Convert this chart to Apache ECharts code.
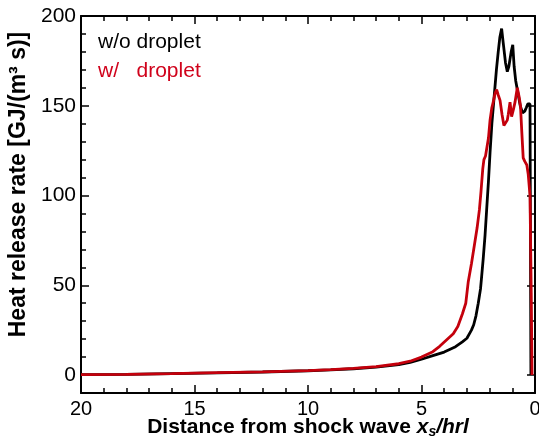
<!DOCTYPE html>
<html>
<head>
<meta charset="utf-8">
<script src="https://cdn.jsdelivr.net/npm/echarts@6/dist/echarts.min.js"></script>
<style>
html,body{margin:0;padding:0;background:#fff;}
#chart{width:539px;height:443px;}
</style>
</head>
<body>
<div id="chart"></div>
<script>
// Distance from shock wave (x_s/hrl) and heat release rate [GJ/(m^3 s)]
const noDropX = [20,18,16,14,12,10,9,8,7,6,5.5,5,4.5,4,3.5,3.2,3,2.8,2.7,2.6,2.5,2.4,2.35,2.28,2.2,2.13,2.05,1.98,1.9,1.8,1.7,1.62,1.55,1.47,1.4,1.3,1.22,1.15,1.05,0.98,0.92,0.85,0.75,0.65,0.55,0.45,0.38,0.32,0.22,0.2,0.18];
const noDropY = [0.2,0.4,0.8,1.2,1.7,2.4,2.9,3.5,4.4,5.8,7,8.8,10.8,12.8,15.8,18.5,20.5,25,28,33,40,48,55,65,78,92,108,124,140,155,170,180,188,193,185,174,169,172,180,184,172,164,157,150,146,147,149,151,151,75,0];

const dropX = [20,18,16,14,12,10,9,8,7,6,5.5,5,4.5,4.2,3.9,3.6,3.4,3.2,3.05,2.94,2.8,2.65,2.55,2.45,2.38,2.3,2.25,2.18,2.1,2.05,1.98,1.9,1.84,1.76,1.69,1.62,1.54,1.45,1.37,1.3,1.22,1.18,1.1,1.03,0.95,0.88,0.78,0.7,0.64,0.58,0.52,0.45,0.36,0.3,0.22,0.17,0.13];
const dropY = [0.2,0.4,0.8,1.3,1.8,2.5,3.0,3.7,4.7,6.3,7.7,10,13,16,19.5,23,27,34,40,52,62,74,82,92,102,115,120,122,123,132,142,149,152,157,159,156,153,145,139,139,142,145,152,144,148,152,160,155,150,135,121,119,117,112,100,50,0];

const seriesNames = ['w/o droplet', 'w/   droplet'];
const yLabelStep = 50;
const yMajorTicks = [0,50,100,150,200];

const pair = (xs, ys) => xs.map((x, i) => [x, ys[i]]);

const FONT = "'Liberation Sans', Arial, Helvetica, sans-serif";
const axisLineStyle = {color:'#000', width:2};
const tickStyle = {color:'#000', width:1.5};

function xAxisDef(pos, showLabel) {
  return {
    type:'value', position:pos, min:0, max:20, interval:5, inverse:true,
    axisLine:{show:true, onZero:false, lineStyle:axisLineStyle},
    axisTick:{show:true, inside:true, length:8, lineStyle:tickStyle},
    minorTick:{show:true, splitNumber:5, length:5, lineStyle:tickStyle},
    axisLabel:{show:showLabel, color:'#000', fontSize:20, fontFamily:FONT, margin:6},
    splitLine:{show:false}, minorSplitLine:{show:false}
  };
}
function yAxisDef(pos, showLabel) {
  return {
    type:'value', position:pos, min:-10, max:200, interval:10,
    axisLine:{show:true, onZero:false, lineStyle:axisLineStyle},
    axisTick:{show:true, inside:true, length:5, lineStyle:tickStyle},
    axisLabel:{show:showLabel, color:'#000', fontSize:21, fontFamily:FONT, margin:5,
               formatter:v => (v % yLabelStep === 0 ? String(v) : '')},
    splitLine:{show:false}
  };
}
function yMajorDef(pos) {
  return {
    type:'value', position:pos, min:-10, max:200,
    axisLine:{show:false, onZero:false},
    axisTick:{show:true, inside:true, length:8, customValues:yMajorTicks, lineStyle:tickStyle},
    axisLabel:{show:false},
    splitLine:{show:false}
  };
}

const xBottom = xAxisDef('bottom', true);
xBottom.name = '{n|Distance from shock wave }{i|x}{s|s}{i|/hrl}';
xBottom.nameLocation = 'middle';
xBottom.nameMoveOverlap = false;
xBottom.nameGap = 22;
xBottom.nameTextStyle = {
  rich:{
    n:{fontSize:21, fontWeight:'bold', fontFamily:FONT, color:'#000'},
    i:{fontSize:21, fontWeight:'bold', fontStyle:'italic', fontFamily:FONT, color:'#000'},
    s:{fontSize:14, fontWeight:'bold', fontStyle:'italic', fontFamily:FONT, color:'#000', padding:[10,0,0,0]}
  }
};

const yLeft = yAxisDef('left', true);
yLeft.name = 'Heat release rate [GJ/(m³ s)]';
yLeft.nameLocation = 'middle';
yLeft.nameRotate = 90;
yLeft.nameGap = 43;
yLeft.nameTextStyle = {fontSize:23, fontWeight:'bold', fontFamily:FONT, color:'#000', padding:[0,0,0,40]};

const option = {
  backgroundColor:'#fff',
  animation:false,
  grid:{left:81, right:4, top:16, bottom:50, outerBoundsMode:'none'},
  legend:{
    show:true, orient:'vertical', left:93, top:32, itemGap:8, padding:0,
    icon:'none', itemWidth:0, itemHeight:0, selectedMode:false,
    textStyle:{fontSize:21, fontFamily:FONT},
    data:[
      {name:seriesNames[0], textStyle:{color:'#000'}},
      {name:seriesNames[1], textStyle:{color:'#d0021b'}}
    ]
  },
  xAxis:[xBottom, xAxisDef('top', false)],
  yAxis:[yLeft, yAxisDef('right', false), yMajorDef('left'), yMajorDef('right')],
  series:[
    {name:seriesNames[0], type:'line', xAxisIndex:0, yAxisIndex:0, data:pair(noDropX, noDropY),
     showSymbol:false, symbol:'none', lineStyle:{color:'#000', width:2.8}, itemStyle:{color:'#000'}},
    {name:seriesNames[1], type:'line', xAxisIndex:0, yAxisIndex:0, data:pair(dropX, dropY),
     showSymbol:false, symbol:'none', lineStyle:{color:'#c4000c', width:2.8}, itemStyle:{color:'#c4000c'}}
  ]
};

const chart = echarts.init(document.getElementById('chart'), null, {renderer:'canvas'});
chart.setOption(option);
</script>
</body>
</html>
